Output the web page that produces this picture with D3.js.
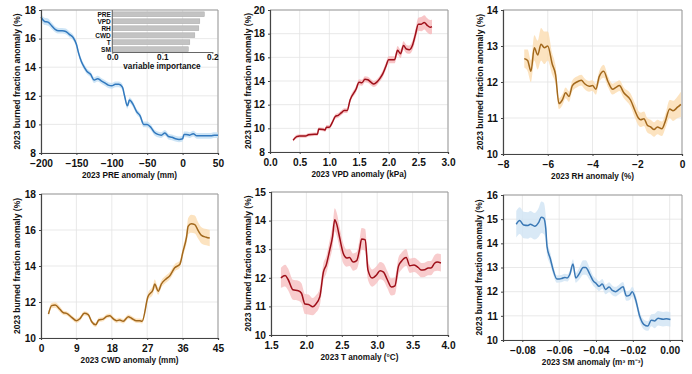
<!DOCTYPE html>
<html><head><meta charset="utf-8">
<script src="https://cdn.jsdelivr.net/npm/d3@7"></script>
<style>
body{margin:0;background:#fff}
svg{display:block}
text{font-family:"Liberation Sans",Arial,sans-serif;font-weight:bold;fill:#111}
</style>
</head><body>
<svg id="chart" width="692" height="374"></svg>
<script>
// ---------- DATA ----------
const preX = [-200,-195,-190,-185,-180,-175,-170,-165,-160,-155,-150,-147,-143,-139,-135,-130,-125,-120,-115,-110,-105,-100,-95,-90,-85,-82,-78,-75,-70,-65,-60,-55,-50,-45,-40,-35,-30,-25,-20,-15,-10,-5,0,2,5,10,15,20,25,30,35,40,45,50];
const preY = [17.5,17.2,17.15,16.9,16.65,16.55,16.55,16.5,16.3,16.1,15.6,15.0,14.4,14.0,13.7,13.5,13.1,13.2,13.05,12.9,12.75,12.7,12.8,12.8,12.6,12.0,11.3,11.7,11.4,10.9,10.6,10.0,10.0,9.8,9.45,9.3,9.25,9.4,9.15,9.1,9.0,8.95,9.0,9.3,9.3,9.25,9.35,9.2,9.2,9.2,9.2,9.2,9.25,9.25];
const preCI = [0.25,0.25,0.25,0.22,0.2,0.2,0.2,0.2,0.2,0.2,0.2,0.2,0.2,0.2,0.2,0.2,0.2,0.2,0.2,0.2,0.2,0.2,0.2,0.2,0.2,0.2,0.2,0.2,0.2,0.2,0.2,0.2,0.2,0.2,0.2,0.2,0.2,0.2,0.2,0.2,0.2,0.2,0.2,0.2,0.2,0.2,0.2,0.2,0.2,0.2,0.2,0.2,0.2,0.2];

const vpdX = [0.39,0.45,0.5,0.6,0.65,0.75,0.8,0.82,0.9,0.93,0.95,1.0,1.05,1.1,1.15,1.2,1.25,1.3,1.35,1.45,1.5,1.55,1.6,1.65,1.7,1.75,1.8,1.85,1.9,1.95,2.0,2.05,2.1,2.15,2.2,2.25,2.3,2.35,2.4,2.45,2.5,2.55,2.6,2.65,2.7,2.73];
const vpdY = [9.0,9.3,9.35,9.35,9.45,9.5,9.5,9.95,9.9,9.85,10.1,10.1,10.5,11.0,11.1,11.3,11.5,11.5,12.4,13.3,13.9,13.85,14.15,14.1,13.9,13.75,13.9,14.2,14.6,15.2,15.8,15.8,15.8,16.6,16.3,17.0,16.7,16.65,17.0,17.9,18.8,18.8,18.95,18.7,18.55,18.6];
const vpdCI = [0.12,0.15,0.15,0.15,0.15,0.15,0.15,0.15,0.15,0.15,0.18,0.18,0.2,0.2,0.2,0.2,0.2,0.2,0.22,0.25,0.25,0.25,0.25,0.25,0.25,0.25,0.25,0.25,0.28,0.3,0.3,0.3,0.3,0.35,0.35,0.35,0.35,0.35,0.4,0.45,0.55,0.6,0.6,0.6,0.6,0.6];

const rhX = [-7.05,-6.9,-6.75,-6.6,-6.45,-6.3,-6.15,-6.0,-5.8,-5.65,-5.5,-5.35,-5.2,-5.05,-4.9,-4.7,-4.5,-4.35,-4.15,-4.0,-3.85,-3.7,-3.5,-3.3,-3.1,-2.95,-2.8,-2.6,-2.3,-2.1,-1.95,-1.85,-1.7,-1.55,-1.4,-1.25,-1.1,-0.9,-0.75,-0.55,-0.4,-0.2,-0.05];
const rhY = [12.65,12.6,12.3,12.95,12.75,13.05,12.95,13.0,12.5,12.2,11.4,11.5,11.7,11.6,11.9,12.0,12.05,11.95,11.88,11.9,11.8,12.15,12.3,12.0,11.8,11.85,11.9,11.7,11.5,11.2,11.0,10.95,10.98,10.8,10.75,10.68,10.75,10.7,10.9,11.25,11.2,11.3,11.38];
const rhCI = [0.25,0.3,0.3,0.35,0.4,0.45,0.45,0.4,0.3,0.25,0.15,0.15,0.15,0.15,0.15,0.15,0.15,0.15,0.15,0.15,0.15,0.15,0.18,0.15,0.15,0.15,0.15,0.15,0.18,0.2,0.2,0.2,0.2,0.2,0.2,0.2,0.2,0.2,0.2,0.25,0.28,0.3,0.35];

const cwdX = [1.9,2.7,3.6,4.8,5.7,6.5,7.8,9.05,9.9,11.0,12.0,12.9,13.9,14.7,15.8,16.7,17.5,18.4,19.2,20.0,20.9,22.2,23.0,24.3,25.1,25.7,27.2,28.5,28.9,29.8,30.6,31.9,32.7,34.0,35.3,36.1,37.0,37.4,38.2,39.1,40.0,40.8,42.0,42.9];
const cwdY = [11.33,11.8,11.83,11.6,11.4,11.37,11.15,10.96,11.07,11.37,11.3,10.9,10.73,11.0,11.05,11.2,11.24,11.06,10.96,11.0,10.93,11.18,11.1,10.96,10.96,10.93,12.3,12.7,13.0,12.6,13.0,13.3,13.45,13.9,14.1,14.8,15.6,16.2,16.35,16.3,15.95,15.7,15.6,15.55];
const cwdCI = [0.15,0.15,0.15,0.15,0.12,0.12,0.12,0.12,0.12,0.12,0.12,0.12,0.12,0.12,0.12,0.12,0.12,0.12,0.12,0.12,0.12,0.12,0.12,0.12,0.12,0.12,0.2,0.25,0.25,0.2,0.2,0.2,0.2,0.2,0.2,0.25,0.35,0.45,0.5,0.5,0.45,0.45,0.45,0.45];

const tX = [1.64,1.70,1.74,1.81,1.885,1.93,1.98,2.03,2.09,2.13,2.19,2.24,2.28,2.33,2.37,2.40,2.43,2.47,2.52,2.57,2.61,2.66,2.71,2.75,2.78,2.83,2.87,2.93,2.99,3.04,3.09,3.14,3.2,3.25,3.3,3.34,3.41,3.46,3.52,3.58,3.62,3.67,3.72,3.76,3.81,3.85,3.9];
const tY = [12.0,12.08,11.95,11.58,11.55,11.46,11.08,11.07,10.99,11.07,11.34,12.2,12.45,12.98,13.45,14.03,13.86,13.4,12.86,12.69,12.71,12.55,12.6,12.98,13.36,13.33,12.27,11.99,12.1,12.25,12.2,11.95,11.68,11.72,12.4,12.57,12.71,12.42,12.45,12.36,12.27,12.28,12.34,12.34,12.51,12.55,12.52];
const tCI = [0.35,0.38,0.38,0.35,0.35,0.35,0.35,0.35,0.3,0.3,0.3,0.3,0.3,0.35,0.38,0.4,0.4,0.38,0.35,0.3,0.3,0.3,0.3,0.35,0.38,0.38,0.35,0.3,0.3,0.3,0.3,0.3,0.3,0.3,0.3,0.3,0.3,0.25,0.25,0.25,0.25,0.25,0.25,0.25,0.28,0.3,0.3];

const smX = [-0.0833,-0.0814,-0.0793,-0.0769,-0.0757,-0.0733,-0.0711,-0.0697,-0.0684,-0.0673,-0.0666,-0.0648,-0.0633,-0.0612,-0.0588,-0.057,-0.0557,-0.0543,-0.0525,-0.051,-0.0489,-0.047,-0.0456,-0.0434,-0.0416,-0.0398,-0.0384,-0.0366,-0.0348,-0.0329,-0.0311,-0.0293,-0.0275,-0.0253,-0.0235,-0.0217,-0.0203,-0.0185,-0.0163,-0.0141,-0.0118,-0.01,-0.0081,-0.0063,-0.0036,-0.0018,0.0004];
const smY = [14.79,14.94,14.76,14.74,14.79,14.71,14.87,15.08,15.04,14.63,13.87,13.36,12.91,12.52,12.54,12.59,12.57,12.7,13.14,12.57,12.77,13.0,13.0,12.73,12.46,12.33,12.22,12.32,12.09,12.19,12.05,12.0,12.09,12.2,11.82,11.86,12.0,11.68,10.99,10.65,10.58,10.82,10.79,10.9,10.86,10.88,10.85];
const smCI = [0.55,0.55,0.55,0.55,0.55,0.55,0.6,0.65,0.65,0.5,0.35,0.25,0.2,0.15,0.15,0.15,0.15,0.15,0.2,0.2,0.25,0.3,0.3,0.25,0.2,0.2,0.2,0.2,0.2,0.2,0.2,0.2,0.2,0.2,0.2,0.2,0.2,0.2,0.2,0.2,0.2,0.25,0.3,0.3,0.3,0.3,0.3];

const impVars = ["PRE","VPD","RH","CWD","T","SM"];
const impVals = [0.184,0.175,0.173,0.165,0.155,0.152];
const impTicks = [0.0,0.1,0.2];

const yTitle = "2023 burned fraction anomaly (%)";

// ---------- LAYOUT ----------
const svg = d3.select("#chart");
const panels = [
  {x:preX,y:preY,ci:preCI,xd:[-200,50],yd:[8,18],xt:d3.range(-200,51,50),yt:d3.range(8,19,2),xf:d3.format("d"),yf:d3.format("d"),
   xlab:"2023 PRE anomaly (mm)",line:"#3279be",fill:"#c2def4",L:41,R:218,T:10,B:153,ytx:17},
  {x:vpdX,y:vpdY,ci:vpdCI,xd:[0,3],yd:[8,20],xt:d3.range(0,3.01,0.5),yt:d3.range(8,21,2),xf:d3.format(".1f"),yf:d3.format("d"),
   xlab:"2023 VPD anomaly (kPa)",line:"#9e0f19",fill:"#f6b7b9",L:270,R:448,T:10,B:152,ytx:248},
  {x:rhX,y:rhY,ci:rhCI,xd:[-8,0],yd:[10,14],xt:d3.range(-8,0.1,2),yt:d3.range(10,14.1,1),xf:d3.format("d"),yf:d3.format("d"),
   xlab:"2023 RH anomaly (%)",line:"#a2681c",fill:"#fbdcb0",L:503,R:682,T:10,B:154,ytx:480},
  {x:cwdX,y:cwdY,ci:cwdCI,xd:[0,45],yd:[10,18],xt:d3.range(0,46,9),yt:d3.range(10,19,2),xf:d3.format("d"),yf:d3.format("d"),
   xlab:"2023 CWD anomaly (mm)",line:"#a2681c",fill:"#fbdcb0",L:41,R:218,T:194,B:338,ytx:17},
  {x:tX,y:tY,ci:tCI,xd:[1.5,4],yd:[10,15],xt:d3.range(1.5,4.01,0.5),yt:d3.range(10,15.1,1),xf:d3.format(".1f"),yf:d3.format("d"),
   xlab:"2023 T anomaly (°C)",line:"#9e0f19",fill:"#f6bfc1",L:271,R:448,T:192,B:335,ytx:248},
  {x:smX,y:smY,ci:smCI,xd:[-0.0905,0.0067],yd:[10,16],xt:[-0.08,-0.06,-0.04,-0.02,0.0],yt:d3.range(10,16.1,1),xf:d3.format(".2f"),yf:d3.format("d"),
   xlab:"2023 SM anomaly (m³ m⁻³)",line:"#3a78b5",fill:"#cfe3f4",L:503,R:682,T:195,B:340,ytx:479}
];

panels.forEach(p=>{
  const xs = d3.scaleLinear().domain(p.xd).range([p.L,p.R]);
  const ys = d3.scaleLinear().domain(p.yd).range([p.B,p.T]);
  const g = svg.append("g");
  g.append("g").selectAll("line").data(p.xt).join("line")
    .attr("x1",d=>xs(d)).attr("x2",d=>xs(d)).attr("y1",p.T).attr("y2",p.B)
    .attr("stroke","#e3e3e3").attr("stroke-width",0.8);
  g.append("g").selectAll("line").data(p.yt).join("line")
    .attr("y1",d=>ys(d)).attr("y2",d=>ys(d)).attr("x1",p.L).attr("x2",p.R)
    .attr("stroke","#e3e3e3").attr("stroke-width",0.8);
  g.append("path").attr("d",`M${p.L},${p.T}H${p.R}V${p.B}`).attr("fill","none").attr("stroke","#9a9a9a").attr("stroke-width",1);
  const pts = p.x.map((v,i)=>({x:v,y:p.y[i],c:p.ci[i]}));
  g.append("path").datum(pts)
    .attr("d",d3.area().x(d=>xs(d.x)).y0(d=>ys(d.y-d.c)).y1(d=>ys(d.y+d.c)).curve(d3.curveMonotoneX))
    .attr("fill",p.fill).attr("opacity",0.8);
  g.append("path").datum(pts)
    .attr("d",d3.line().x(d=>xs(d.x)).y(d=>ys(d.y)).curve(d3.curveMonotoneX))
    .attr("fill","none").attr("stroke",p.line).attr("stroke-width",1.5);
  const xa = g.append("g").attr("transform",`translate(0,${p.B})`)
    .call(d3.axisBottom(xs).tickValues(p.xt).tickFormat(p.xf).tickSize(2).tickPadding(2.5));
  const ya = g.append("g").attr("transform",`translate(${p.L},0)`)
    .call(d3.axisLeft(ys).tickValues(p.yt).tickFormat(p.yf).tickSize(2).tickPadding(3));
  [xa,ya].forEach(a=>{
    a.select(".domain").attr("stroke","#444").attr("stroke-width",1.2);
    a.selectAll(".tick line").attr("stroke","#444");
    a.selectAll(".tick text").attr("font-size",10.2).attr("font-family","Liberation Sans, Arial, sans-serif").attr("font-weight","bold").attr("fill","#111");
  });
  xa.selectAll(".tick text").attr("dy","0.9em");
  g.append("text").attr("x",(p.L+p.R)/2).attr("y",p.B+25).attr("text-anchor","middle").attr("font-size",8.2).text(p.xlab);
  g.append("text").attr("transform",`translate(${p.ytx},${(p.T+p.B)/2}) rotate(-90)`).attr("text-anchor","middle")
    .attr("dy","0.35em").attr("font-size",8.5).text(yTitle);
});

// ---------- INSET (variable importance) ----------
const ix = d3.scaleLinear().domain([0,0.2]).range([112.3,212.3]);
const iy = d3.scaleBand().domain(impVars).range([11.5,52]).paddingInner(0.3).paddingOuter(0.05);
const ig = svg.append("g");
ig.selectAll("rect").data(impVars).join("rect")
  .attr("x",ix(0)).attr("y",d=>iy(d)).attr("width",(d,i)=>ix(impVals[i])-ix(0)).attr("height",iy.bandwidth())
  .attr("fill","#c3c3c3").attr("stroke","#a9a9a9").attr("stroke-width",0.5);
ig.selectAll("text.lab").data(impVars).join("text").attr("class","lab")
  .attr("x",ix(0)-1.5).attr("y",d=>iy(d)+iy.bandwidth()/2).attr("dy","0.36em").attr("text-anchor","end")
  .attr("font-size",6.5).text(d=>d);
const iax = ig.append("g").attr("transform","translate(0,52)")
  .call(d3.axisBottom(ix).tickValues(impTicks).tickFormat(d3.format(".1f")).tickSize(1.5).tickPadding(1));
iax.select(".domain").attr("stroke","#666");
iax.selectAll(".tick line").attr("stroke","#666");
iax.selectAll(".tick text").attr("font-size",8.2).attr("font-family","Liberation Sans, Arial, sans-serif").attr("font-weight","bold").attr("fill","#111");
ig.append("line").attr("x1",ix(0)).attr("x2",ix(0)).attr("y1",10).attr("y2",52).attr("stroke","#666");
ig.append("text").attr("x",162).attr("y",69).attr("text-anchor","middle").attr("font-size",8.2).text("variable importance");
</script>
</body></html>
